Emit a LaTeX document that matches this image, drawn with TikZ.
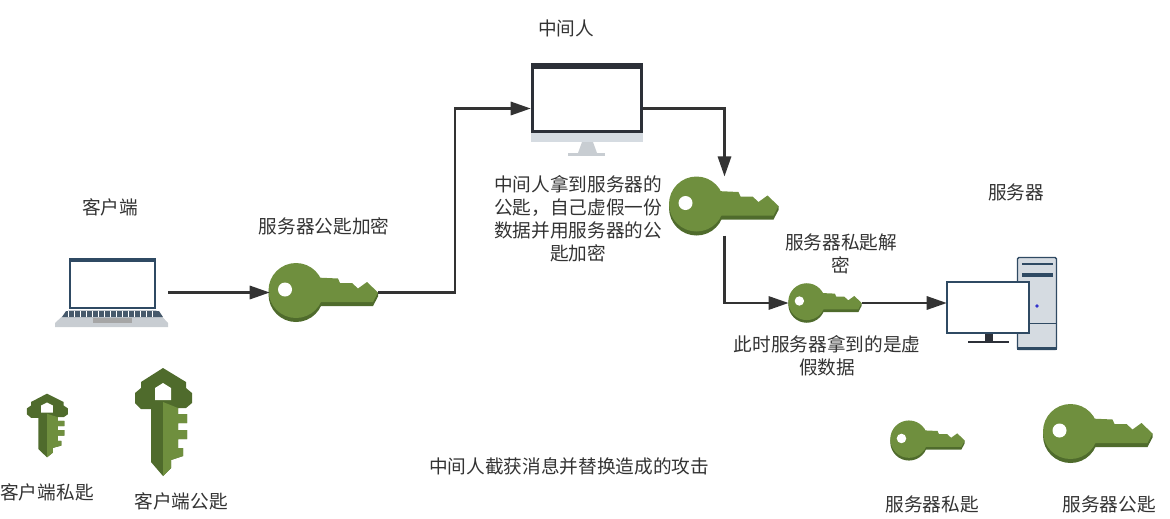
\documentclass[tikz,border=0pt]{standalone}
\usepackage{fontspec}
\setmainfont{Noto Sans CJK SC}
\usetikzlibrary{arrows.meta}
\definecolor{keyface}{HTML}{6F8F3E}
\definecolor{keyside}{HTML}{4F6B2C}
\definecolor{inkgray}{HTML}{333333}
\definecolor{bezel}{HTML}{2C3038}
\definecolor{slate}{HTML}{2F4A63}
\definecolor{panel}{HTML}{D5DBE1}
\tikzset{
  label/.style={text=inkgray, font=\fontsize{14pt}{17.25pt}\selectfont, align=center, inner sep=0pt},
  conn/.style={draw=inkgray, line width=1.6pt, -{Triangle[length=15pt,width=10pt]}},
  keybig/.style={minimum width=81pt, minimum height=44pt, inner sep=0pt},
  keysmall/.style={minimum width=55pt, minimum height=28pt, inner sep=0pt},
  keyicon/.pic={
    \fill[keyside] (-28,2) circle (27.5);
    \fill[keyside] (-8,0) -- (54,0) -- (54,4) -- (49,13.5) -- (-8,13.5) -- cycle;
    \fill[keyface] (-28,-2) circle (27.5);
    \fill[keyface] (-8,-15) -- (14,-14) -- (16,-9.5) -- (28,-9.5) -- (34,-4) -- (43,-10.5) -- (54,0) -- (49,9.5) -- (-8,9.5) -- cycle;
    \fill[white] (-39,-3) circle (7);
  },
  vkeyicon/.pic={
    \fill[keyside] (0,-54) -- (23,-40) -- (23,-34) -- (29,-29) -- (29,-19) -- (23,-14) -- (15,-14)
      -- (15,-8) -- (24,-8) -- (24,1) -- (15,1) -- (15,8) -- (24,8) -- (24,17) -- (15,17) -- (15,26)
      -- (20,26) -- (20,34) -- (8,38) -- (8,46) -- (0,54) -- (-12,40) -- (-12,-13) -- (-22,-13)
      -- (-28,-19) -- (-28,-29) -- (-22,-34) -- (-22,-40) -- cycle;
    \fill[keyface] (0,-20) -- (15,-14) -- (15,-8) -- (24,-8) -- (24,1) -- (15,1) -- (15,8) -- (24,8)
      -- (24,17) -- (15,17) -- (15,26) -- (20,26) -- (20,34) -- (8,38) -- (8,46) -- (0,54) -- cycle;
    \fill[white] (0,-39) -- (8,-34) -- (8,-22) -- (-8,-22) -- (-8,-34) -- cycle;
  }
}
\begin{document}
\begin{tikzpicture}[x=0.75pt, y=-0.75pt]
  \useasboundingbox (0,0) rectangle (1170,518);

  % laptop
  \node[minimum width=84.75pt, minimum height=51.75pt, inner sep=0pt] (laptop) at (111.5,292.5) {};
  \fill[panel!85!gray] (69,310) -- (156,310) -- (168,323) -- (168,327) -- (55,327) -- (55,323) -- cycle;
  \fill[slate!70!gray] (66,311) -- (159,311) -- (163,317) -- (62,317) -- cycle;
  \foreach \x in {68, 74, ..., 152}
  \draw[white, line width=0.5pt] (\x, 311) -- (\x, 317);
  \fill[gray!70] (93,318) rectangle (132,323);
  \draw[slate, line width=1.6pt, fill=white] (70,259) rectangle (155,308);
  \fill[slate] (69,258) rectangle (156,262);

  % monitor
  \node[minimum width=84pt, minimum height=68.25pt, inner sep=0pt] (monitor) at (587,108.5) {};
  \fill[panel] (531,133) rectangle (643,142);
  \fill[panel!85!gray] (582,142) -- (593,142) -- (597,153) -- (578,153) -- cycle;
  \fill[panel!85!gray] (568,153) rectangle (605,156);
  \draw[bezel, line width=2.2pt, fill=white] (532.5,65) rectangle (641.5,131.5);
  \fill[bezel] (531,63) rectangle (643,69);

  % server
  \node[minimum width=82.5pt, minimum height=69.75pt, inner sep=0pt] (server) at (1002,303) {};
  \draw[slate, line width=1pt, fill=panel, rounded corners=1pt] (1017.5,257.5) rectangle (1056.5,349.5);
  \fill[slate] (1017,347) rectangle (1057,350);
  \draw[slate, line width=1pt] (1022,264) -- (1053,264);
  \fill[slate] (1022,273) rectangle (1053,277);
  \fill[blue!60!gray] (1037,306) circle (1.8);
  \draw[slate, line width=0.6pt] (1029,323) -- (1057,323);
  \fill[bezel] (985,333) rectangle (993,341);
  \fill[bezel] (968,341) rectangle (1009,343);
  \draw[slate, line width=1pt, fill=white] (947,282) rectangle (1029,333);

  % keys
  \node[keybig] (keyEncrypt) at (324,292.5) {};
  \node[keybig] (keyFake) at (724.5,206) {};
  \node[keysmall] (keyDecrypt) at (825.5,303) {};
  \node[keysmall] (keyPrivate) at (928,440.5) {};
  \node[keybig] (keyPublic) at (1098.5,433.5) {};
  \pic at (keyEncrypt) {keyicon};
  \pic at (keyFake) {keyicon};
  \pic[scale=0.67] at (keyDecrypt) {keyicon};
  \pic[scale=0.68] at (keyPrivate) {keyicon};
  \pic at (keyPublic) {keyicon};
  \pic at (163,422) {vkeyicon};
  \pic[xscale=0.72, yscale=0.59] at (47,425.5) {vkeyicon};

  % connectors
  \draw[conn] (laptop.east) -- (keyEncrypt.west);
  \draw[conn] (keyEncrypt.east) -| (455,200) |- (monitor.west);
  \draw[conn] (monitor.east) -| (keyFake.north);
  \draw[conn] (keyFake.south) |- (keyDecrypt.west);
  \draw[conn] (keyDecrypt.east) -- (server.west);

  % labels
  \node[label] (client) at (110,207) {客户端};
  \node[label] (man) at (566,28) {中间人};
  \node[label] (srv) at (1016,192) {服务器};
  \node[label] (encrypt) at (324,226) {服务器公匙加密};
  \node[label] (fake) at (578,219) {中间人拿到服务器的\\公匙，自己虚假一份\\数据并用服务器的公\\匙加密};
  \node[label] (decrypt) at (841,254) {服务器私匙解\\密};
  \node[label] (result) at (827,356) {此时服务器拿到的是虚\\假数据};
  \node[label] (title) at (569,466) {中间人截获消息并替换造成的攻击};
  \node[label] (cpriv) at (47,492) {客户端私匙};
  \node[label] (cpub) at (181,501) {客户端公匙};
  \node[label] (spriv) at (932,504) {服务器私匙};
  \node[label] (spub) at (1109,504) {服务器公匙};
\end{tikzpicture}
\end{document}
